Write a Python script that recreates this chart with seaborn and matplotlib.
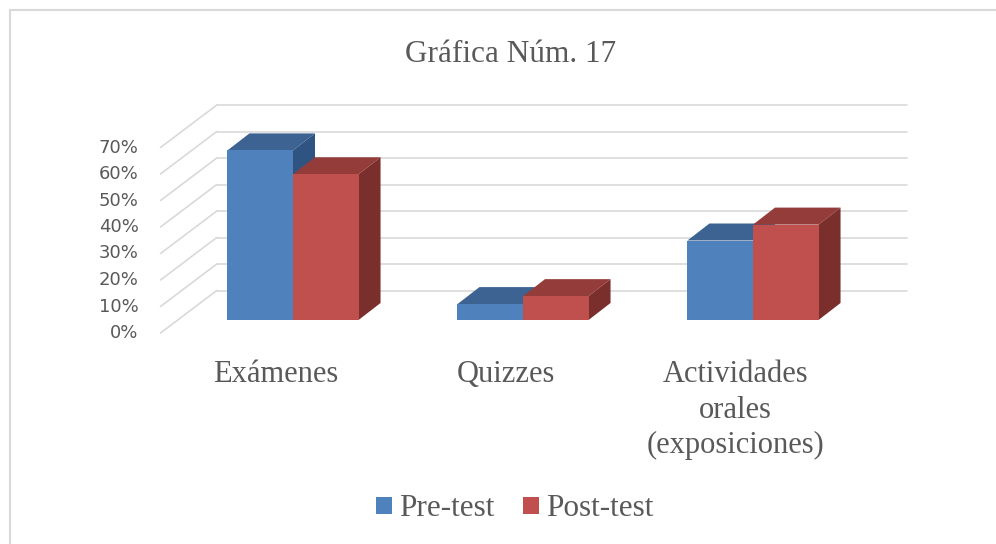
import pandas as pd
import numpy as np
import matplotlib.pyplot as plt
import seaborn as sns
from matplotlib.patches import Polygon, Patch
from matplotlib.lines import Line2D
from matplotlib.transforms import IdentityTransform

# Data
categorias = ["Exámenes", "Quizzes", "Actividades\norales\n(exposiciones)"]
grupos = ["Pre-test", "Post-test"]
pre_test = [0.64, 0.06, 0.30]
post_test = [0.55, 0.09, 0.36]
ticks = [0.0, 0.1, 0.2, 0.3, 0.4, 0.5, 0.6, 0.7]
titulo = "Gráfica Núm. 17"

sns.set_style("white")
plt.rcParams["font.family"] = ["Liberation Serif", "DejaVu Serif"]

colores = ["#4f81bd", "#c0504d"]
colores_top = ["#3c6391", "#943c3a"]
colores_side = ["#2f5481", "#7b2f2d"]
gris_texto = "#595959"
gris_grid = "#d9d9d9"

df = pd.DataFrame({
    "categoria": categorias * 2,
    "grupo": [grupos[0]] * 3 + [grupos[1]] * 3,
    "valor": pre_test + post_test,
})

W, H = 996, 544
fig = plt.figure(figsize=(W / 100, H / 100), dpi=100)
ax = fig.add_axes([178 / W, 1 - 320 / H, 690 / W, 185.5 / H])

sns.barplot(data=df, x="categoria", y="valor", hue="grupo", palette=colores,
            width=0.57, saturation=1, legend=False, ax=ax)
ax.set_xlim(-0.5, 2.5)
ax.set_ylim(0, 0.7)
ax.axis("off")

# perspective offsets in pixels
front = (-17.5, -13.0)
back = (38.8, 29.5)
depth = (22.0, 17.0)

def px(x, y):
    return ax.transData.transform((x, y))

# walls: back gridlines and left-side diagonals
for v in ticks:
    bx0, by0 = px(-0.5, v) + np.array(back)
    bx1, by1 = px(2.5, v) + np.array(back)
    fx, fy = px(-0.5, v) + np.array(front)
    ax.add_line(Line2D([bx0, bx1], [by0, by1], color=gris_grid, lw=1.2,
                       transform=IdentityTransform(), clip_on=False, zorder=0.5))
    ax.add_line(Line2D([fx, bx0], [fy, by0], color=gris_grid, lw=1.2,
                       transform=IdentityTransform(), clip_on=False, zorder=0.5))
    fig.text((fx - 22) / W, fy / H, f"{int(round(v * 100))}%", ha="right", va="center",
             fontsize=13, color=gris_texto, family="DejaVu Sans")

# 3D faces of the bars
dx, dy = depth
for i, cont in enumerate(ax.containers):
    for bar in cont:
        bar.set_zorder(3 + 2 * i)
        bar.set_edgecolor("none")
        x0, y0 = px(bar.get_x(), 0)
        x1, y1 = px(bar.get_x() + bar.get_width(), bar.get_height())
        top = [(x0, y1), (x1, y1), (x1 + dx, y1 + dy), (x0 + dx, y1 + dy)]
        side = [(x1, y0), (x1 + dx, y0 + dy), (x1 + dx, y1 + dy), (x1, y1)]
        ax.add_patch(Polygon(top, closed=True, facecolor=colores_top[i], edgecolor="none",
                             transform=IdentityTransform(), clip_on=False, zorder=2 + 2 * i))
        ax.add_patch(Polygon(side, closed=True, facecolor=colores_side[i], edgecolor="none",
                             transform=IdentityTransform(), clip_on=False, zorder=2 + 2 * i))

# category labels on the front floor
for k, cat in enumerate(categorias):
    cx, _ = px(k, 0)
    cx += front[0]
    for j, linea in enumerate(cat.split("\n")):
        fig.text(cx / W, 1 - (382 + 35.5 * j) / H, linea, ha="center", va="baseline",
                 fontsize=22, color=gris_texto)

fig.text(511 / W, 1 - 62 / H, titulo, ha="center", va="baseline", fontsize=22.5, color=gris_texto)

handles = [Patch(facecolor=c, edgecolor="none") for c in colores]
fig.legend(handles, grupos, loc="center", bbox_to_anchor=(515 / W, 1 - 509 / H), ncol=2,
           frameon=False, fontsize=22.5, labelcolor=gris_texto, handlelength=0.5,
           handleheight=0.5, handletextpad=0.25, columnspacing=0.9)

# chart frame
fig.add_artist(Line2D([10 / W, 10 / W], [0, 1 - 10 / H], color=gris_grid, lw=1.5))
fig.add_artist(Line2D([10 / W, 1], [1 - 10 / H, 1 - 10 / H], color=gris_grid, lw=1.5))

fig.savefig("out.png", dpi=100, facecolor="white")
